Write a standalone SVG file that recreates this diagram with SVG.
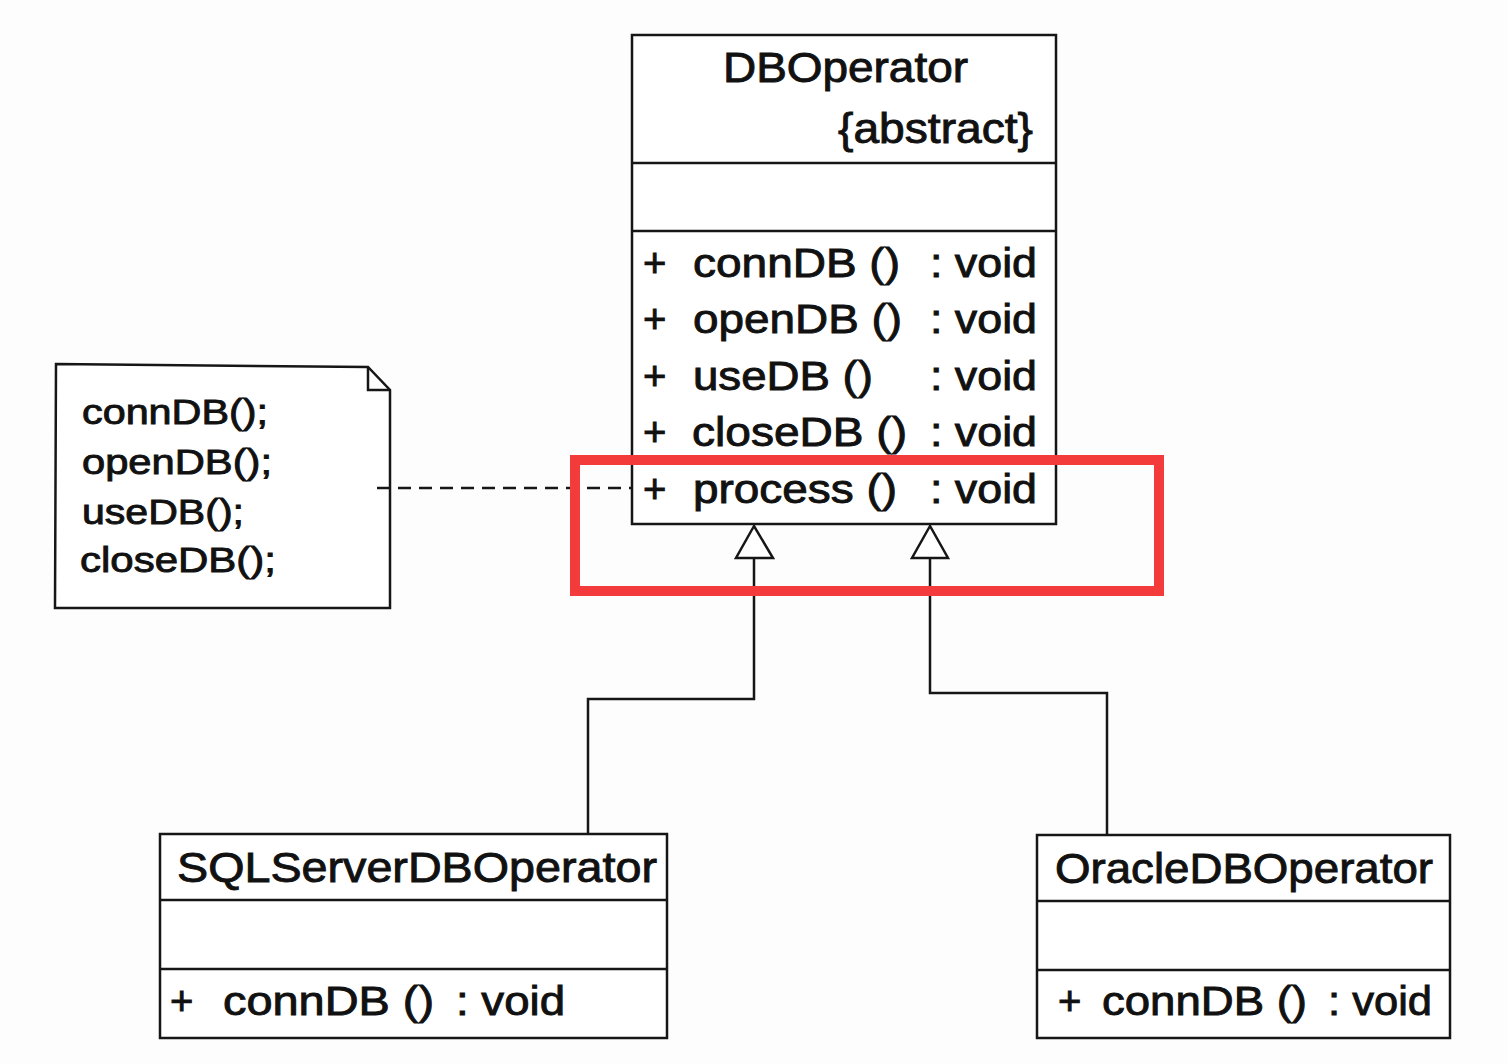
<svg xmlns="http://www.w3.org/2000/svg" width="1508" height="1064" viewBox="0 0 1508 1064">
<style>
.box{fill:#fff;stroke:#161616;stroke-width:2.5}
.ln{fill:none;stroke:#161616;stroke-width:2.5}
.t{font-family:"Liberation Sans",Arial,sans-serif;fill:#111;stroke:#111;stroke-width:0.9}
.cls{font-size:42px}
.m{font-size:40px}
.n{font-size:35px}
.tri{fill:#fff;stroke:#161616;stroke-width:2.5;stroke-linejoin:miter}
</style>
<rect width="1508" height="1064" fill="#fdfdfd"/>
<g id="DBOperator">
  <rect class="box" x="632" y="35" width="424" height="489"/>
  <line class="ln" x1="632" y1="163" x2="1056" y2="163"/>
  <line class="ln" x1="632" y1="231" x2="1056" y2="231"/>
  <text class="t cls" x="723" y="82" textLength="245" lengthAdjust="spacingAndGlyphs">DBOperator</text>
  <text class="t cls" x="838" y="143" textLength="195" lengthAdjust="spacingAndGlyphs">{abstract}</text>
  <g class="t m">
    <text x="643" y="277">+</text>
    <text x="693" y="277" textLength="207" lengthAdjust="spacingAndGlyphs">connDB ()</text>
    <text x="930" y="277" textLength="107" lengthAdjust="spacingAndGlyphs">: void</text>
    <text x="643" y="333">+</text>
    <text x="693" y="333" textLength="209" lengthAdjust="spacingAndGlyphs">openDB ()</text>
    <text x="930" y="333" textLength="107" lengthAdjust="spacingAndGlyphs">: void</text>
    <text x="643" y="390">+</text>
    <text x="693" y="390" textLength="180" lengthAdjust="spacingAndGlyphs">useDB ()</text>
    <text x="930" y="390" textLength="107" lengthAdjust="spacingAndGlyphs">: void</text>
    <text x="643" y="446">+</text>
    <text x="692" y="446" textLength="215" lengthAdjust="spacingAndGlyphs">closeDB ()</text>
    <text x="930" y="446" textLength="107" lengthAdjust="spacingAndGlyphs">: void</text>
    <text x="643" y="503">+</text>
    <text x="693" y="503" textLength="204" lengthAdjust="spacingAndGlyphs">process ()</text>
    <text x="930" y="503" textLength="107" lengthAdjust="spacingAndGlyphs">: void</text>
  </g>
</g>
<g id="note">
  <path class="box" d="M56,364 L368,367 L390,390 L390,608 L55,608 Z"/>
  <path class="ln" d="M368,367 L368,390 L390,390"/>
  <g class="t n">
    <text x="82" y="424" textLength="186" lengthAdjust="spacingAndGlyphs">connDB();</text>
    <text x="82" y="474" textLength="190" lengthAdjust="spacingAndGlyphs">openDB();</text>
    <text x="82" y="524" textLength="162" lengthAdjust="spacingAndGlyphs">useDB();</text>
    <text x="80" y="572" textLength="196" lengthAdjust="spacingAndGlyphs">closeDB();</text>
  </g>
</g>
<g id="SQLServerDBOperator">
  <rect class="box" x="160" y="834" width="507" height="204"/>
  <line class="ln" x1="160" y1="900" x2="667" y2="900"/>
  <line class="ln" x1="160" y1="969" x2="667" y2="969"/>
  <text class="t cls" x="177" y="882" textLength="480" lengthAdjust="spacingAndGlyphs">SQLServerDBOperator</text>
  <g class="t m">
    <text x="170" y="1015">+</text>
    <text x="223" y="1015" textLength="211" lengthAdjust="spacingAndGlyphs">connDB ()</text>
    <text x="456" y="1015" textLength="109" lengthAdjust="spacingAndGlyphs">: void</text>
  </g>
</g>
<g id="OracleDBOperator">
  <rect class="box" x="1037" y="835" width="413" height="203"/>
  <line class="ln" x1="1037" y1="901" x2="1450" y2="901"/>
  <line class="ln" x1="1037" y1="970" x2="1450" y2="970"/>
  <text class="t cls" x="1055" y="883" textLength="378" lengthAdjust="spacingAndGlyphs">OracleDBOperator</text>
  <g class="t m">
    <text x="1058" y="1015">+</text>
    <text x="1102" y="1015" textLength="205" lengthAdjust="spacingAndGlyphs">connDB ()</text>
    <text x="1328" y="1015" textLength="104" lengthAdjust="spacingAndGlyphs">: void</text>
  </g>
</g>
<g id="connectors">
  <path class="ln" d="M377,488 L632,488" stroke-dasharray="13,8"/>
  <path class="ln" d="M754,558 L754,699 L588,699 L588,834"/>
  <path class="ln" d="M930,558 L930,693 L1107,693 L1107,835"/>
  <polygon class="tri" points="754,526 736,558 773,558"/>
  <polygon class="tri" points="930,526 912,558 948,558"/>
</g>
<g id="highlight">
  <rect x="575" y="460" width="584" height="131" fill="none" stroke="#f43b3c" stroke-width="10"/>
</g>
</svg>
